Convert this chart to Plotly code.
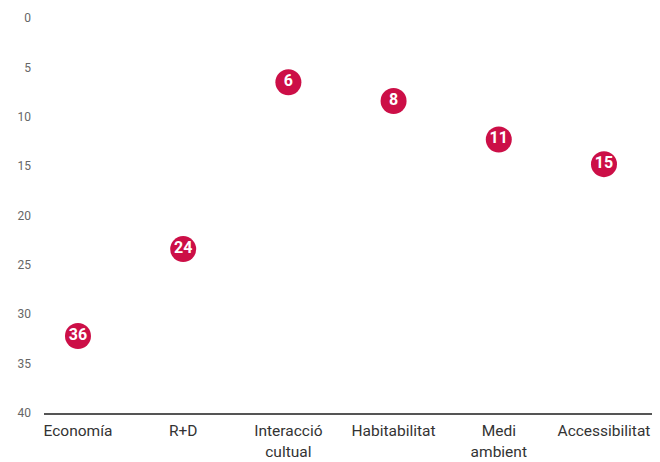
import plotly.graph_objects as go

categories = ["Economía", "R+D", "Interacció<br>cultual", "Habitabilitat", "Medi<br>ambient", "Accessibilitat"]
positions = [32.2, 23.4, 6.5, 8.4, 12.3, 14.8]
rank_labels = ["36", "24", "6", "8", "11", "15"]
y_ticks = [0, 5, 10, 15, 20, 25, 30, 35, 40]

fig = go.Figure()
fig.add_trace(go.Scatter(
    x=categories, y=positions, text=rank_labels,
    mode="markers+text", textposition="middle center",
    marker=dict(size=26, color="#cc0f47", line=dict(width=0)),
    textfont=dict(family="Roboto", size=16, color="white", weight="bold"),
    hoverinfo="skip", cliponaxis=False,
))

fig.update_layout(
    width=660, height=462,
    margin=dict(l=36, r=13, t=10, b=57),
    paper_bgcolor="white", plot_bgcolor="white",
    showlegend=False,
    font=dict(family="Roboto", color="#333"),
)
fig.update_xaxes(
    type="category", range=[-0.323, 5.485], automargin=False,
    showgrid=False, zeroline=False,
    showline=True, linecolor="#555", linewidth=1.5,
    ticks="", tickfont=dict(size=15.5, color="#333"),
    ticklabelstandoff=3,
)
fig.update_yaxes(
    range=[40, 0], tickvals=y_ticks, automargin=False,
    showgrid=False, zeroline=False, showline=False,
    ticks="", tickfont=dict(size=12, color="#666"),
    ticklabelstandoff=12,
)

fig.write_html("out.html")
